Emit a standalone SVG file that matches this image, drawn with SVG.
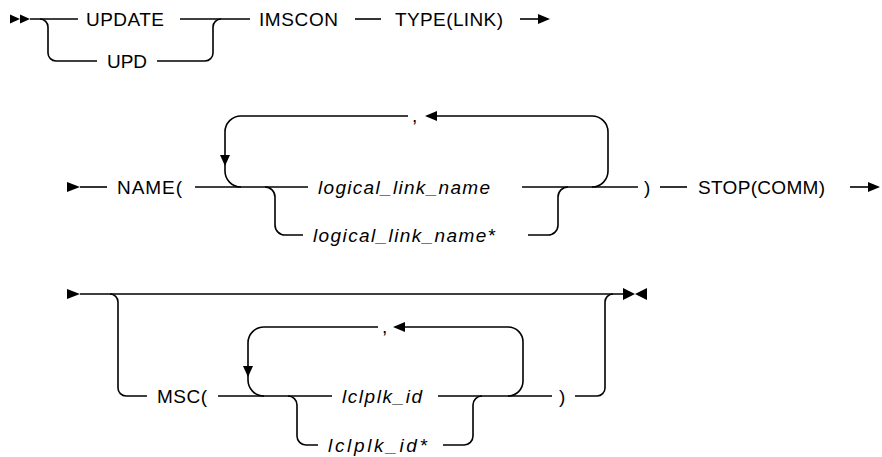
<svg xmlns="http://www.w3.org/2000/svg" width="882" height="457" viewBox="0 0 882 457">
<style>
  .bg { fill: #ffffff; }
  .ln { fill: none; stroke: #000; stroke-width: 1.6; }
  .ah { fill: #000; stroke: none; }
  text { font-family: "Liberation Sans", Arial, sans-serif; font-size: 19px; fill: #000; }
  .var { font-style: italic; }
</style>
<rect class="bg" x="0" y="0" width="882" height="457"/>

<g id="connectors">
  <!-- row 1 -->
  <polygon class="ah" points="10,14.5 20,19 10,23.5"/>
  <polygon class="ah" points="20,14.5 30,19 20,23.5"/>
  <path class="ln" d="M30,19 H78"/>
  <path class="ln" d="M40,19 A8,8 0 0 1 48,27 V53 A8,8 0 0 0 56,61 H97"/>
  <path class="ln" d="M157,61 H205 A8,8 0 0 0 213,53 V27 A8,8 0 0 1 221,19"/>
  <path class="ln" d="M180,19 H250"/>
  <path class="ln" d="M355,19 H381"/>
  <path class="ln" d="M520,19 H540"/>
  <polygon class="ah" points="538,14 550,19 538,24"/>

  <!-- row 2 -->
  <polygon class="ah" points="67,182 80,187 67,192"/>
  <path class="ln" d="M80,187 H107"/>
  <path class="ln" d="M195,187 H308"/>
  <path class="ln" d="M408,116 H241 A16,16 0 0 0 225,132 V171 A16,16 0 0 0 241,187"/>
  <polygon class="ah" points="220,155 230,155 225,166"/>
  <path class="ln" d="M437,116 H592 A16,16 0 0 1 608,132 V171 A16,16 0 0 1 592,187"/>
  <polygon class="ah" points="425,116 437,111 437,121"/>
  <path class="ln" d="M265,187 A10,10 0 0 1 275,197 V225 A10,10 0 0 0 285,235 H303"/>
  <path class="ln" d="M528,235 H548 A10,10 0 0 0 558,225 V197 A10,10 0 0 1 568,187"/>
  <path class="ln" d="M522,187 H638"/>
  <path class="ln" d="M660,187 H687"/>
  <path class="ln" d="M850,187 H870"/>
  <polygon class="ah" points="868,182 880,187 868,192"/>

  <!-- row 3 -->
  <polygon class="ah" points="67,289 80,294 67,299"/>
  <path class="ln" d="M80,294 H623"/>
  <polygon class="ah" points="623,288 635,294 623,300"/>
  <polygon class="ah" points="647,288 635,294 647,300"/>
  <path class="ln" d="M110,294 A8,8 0 0 1 118,302 V388 A8,8 0 0 0 126,396 H147"/>
  <path class="ln" d="M218,396 H332"/>
  <path class="ln" d="M378,327 H264 A16,16 0 0 0 248,343 V380 A16,16 0 0 0 264,396"/>
  <polygon class="ah" points="243,366 253,366 248,377"/>
  <path class="ln" d="M405,327 H508 A15,15 0 0 1 523,342 V381 A15,15 0 0 1 508,396"/>
  <polygon class="ah" points="393,327 405,322 405,332"/>
  <path class="ln" d="M288,396 A9,9 0 0 1 297,405 V436 A9,9 0 0 0 306,445 H318"/>
  <path class="ln" d="M443,445 H464 A9,9 0 0 0 473,436 V405 A9,9 0 0 1 482,396"/>
  <path class="ln" d="M438,396 H552"/>
  <path class="ln" d="M575,396 H597 A8,8 0 0 0 605,388 V302 A8,8 0 0 1 613,294"/>
</g>

<g id="n-update"><text x="86" y="26" textLength="78" lengthAdjust="spacing">UPDATE</text></g>
<g id="n-upd"><text x="107" y="68" textLength="40" lengthAdjust="spacing">UPD</text></g>
<g id="n-imscon"><text x="259" y="26" textLength="79" lengthAdjust="spacing">IMSCON</text></g>
<g id="n-type"><text x="395" y="26" textLength="108" lengthAdjust="spacing">TYPE(LINK)</text></g>

<g id="n-name"><text x="117" y="194" textLength="65" lengthAdjust="spacing">NAME(</text></g>
<g id="n-comma1"><text x="412" y="122">,</text></g>
<g id="n-lln"><text class="var" x="318" y="194" textLength="172" lengthAdjust="spacing">logical_link_name</text></g>
<g id="n-lln-star"><text class="var" x="313" y="242" textLength="182" lengthAdjust="spacing">logical_link_name*</text></g>
<g id="n-rparen1"><text x="644" y="194">)</text></g>
<g id="n-stop"><text x="698" y="194" textLength="127" lengthAdjust="spacing">STOP(COMM)</text></g>

<g id="n-msc"><text x="157" y="403" textLength="50" lengthAdjust="spacing">MSC(</text></g>
<g id="n-comma2"><text x="382" y="333">,</text></g>
<g id="n-lclplk"><text class="var" x="342" y="403" textLength="80" lengthAdjust="spacing">lclplk_id</text></g>
<g id="n-lclplk-star"><text class="var" x="328" y="452" textLength="99" lengthAdjust="spacing">lclplk_id*</text></g>
<g id="n-rparen2"><text x="559" y="403">)</text></g>
</svg>
